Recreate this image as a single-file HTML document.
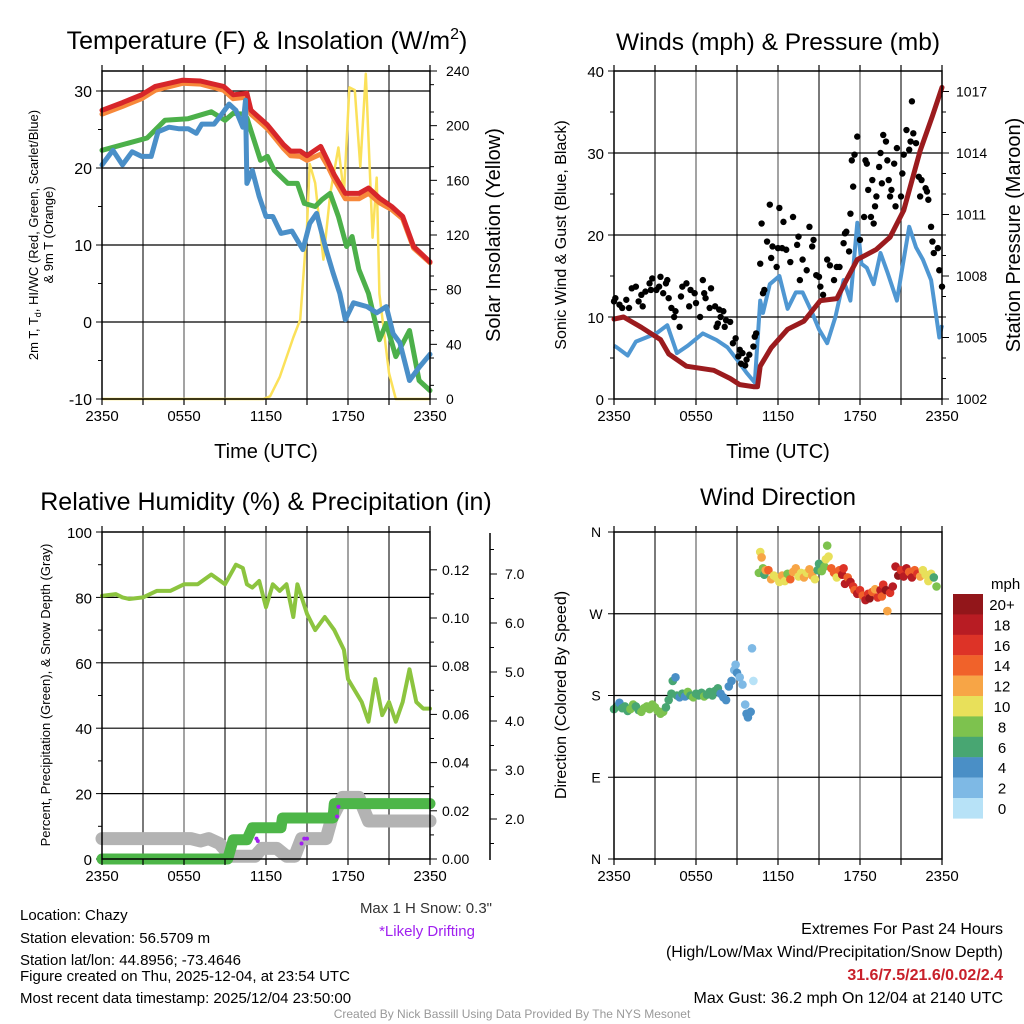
<!DOCTYPE html>
<html><head><meta charset="utf-8"><style>
html,body{margin:0;padding:0;background:#fff;}
svg{display:block;font-family:"Liberation Sans",Arial,sans-serif;}
</style></head><body>
<svg id="root" width="1024" height="1024" viewBox="0 0 1024 1024" xmlns="http://www.w3.org/2000/svg">
<rect width="1024" height="1024" fill="#fff"/>
<g id="static" fill="#000">
<text x="267" y="49" font-size="25" text-anchor="middle">Temperature (F) &amp; Insolation (W/m<tspan font-size="16" dy="-10">2</tspan><tspan dy="10">)</tspan></text>
<text x="778" y="50" font-size="24.5" text-anchor="middle">Winds (mph) &amp; Pressure (mb)</text>
<text x="266" y="510" font-size="25" text-anchor="middle">Relative Humidity (%) &amp; Precipitation (in)</text>
<text x="778" y="505" font-size="24" text-anchor="middle">Wind Direction</text>
<text x="266" y="458" font-size="20" text-anchor="middle">Time (UTC)</text>
<text x="778" y="458" font-size="20" text-anchor="middle">Time (UTC)</text>
<text transform="translate(38,235) rotate(-90)" font-size="13" text-anchor="middle">2m T, T<tspan font-size="9" dy="3">d</tspan><tspan dy="-3">, HI/WC (Red, Green, Scarlet/Blue)</tspan></text>
<text transform="translate(53,235) rotate(-90)" font-size="13" text-anchor="middle">&amp; 9m T (Orange)</text>
<text transform="translate(500,235) rotate(-90)" font-size="20" text-anchor="middle">Solar Insolation (Yellow)</text>
<text transform="translate(566,235) rotate(-90)" font-size="16" text-anchor="middle">Sonic Wind &amp; Gust (Blue, Black)</text>
<text transform="translate(1020,235) rotate(-90)" font-size="20" text-anchor="middle">Station Pressure (Maroon)</text>
<text transform="translate(50,695) rotate(-90)" font-size="13" text-anchor="middle">Percent, Precipitation (Green), &amp; Snow Depth (Gray)</text>
<text transform="translate(566,695) rotate(-90)" font-size="16" text-anchor="middle">Direction (Colored By Speed)</text>
<text x="991" y="589" font-size="15">mph</text>
<text x="492" y="913" font-size="15" fill="#333" text-anchor="end">Max 1 H Snow: 0.3"</text>
<text x="427" y="936" font-size="15" fill="#a020f0" text-anchor="middle">*Likely Drifting</text>
<g font-size="15">
<text x="20" y="920">Location: Chazy</text>
<text x="20" y="943">Station elevation: 56.5709 m</text>
<text x="20" y="965">Station lat/lon: 44.8956; -73.4646</text>
<text x="20" y="981">Figure created on Thu, 2025-12-04, at 23:54 UTC</text>
<text x="20" y="1003">Most recent data timestamp: 2025/12/04 23:50:00</text>
</g>
<g font-size="16" text-anchor="end">
<text x="1003" y="934">Extremes For Past 24 Hours</text>
<text x="1003" y="957">(High/Low/Max Wind/Precipitation/Snow Depth)</text>
<text x="1003" y="980" fill="#c8202a" font-weight="bold">31.6/7.5/21.6/0.02/2.4</text>
<text x="1003" y="1003">Max Gust: 36.2 mph On 12/04 at 2140 UTC</text>
</g>
<text x="512" y="1018" font-size="12" fill="#999" text-anchor="middle">Created By Nick Bassill Using Data Provided By The NYS Mesonet</text>
</g>
<g id="dyn"></g>
</svg>
<script>
// ---------- Temperature panel data ----------
const tHours = [0,1.5,2.9,3.9,5.9,7.2,8.9,9.6,10.6,10.9,12.1,13.3,13.8,14.5,15.0,16.0,16.5,17.0,17.8,18.8,19.5,20.3,21.2,22.0,22.8,24];
const tempRed = [27.5,28.5,29.5,30.6,31.4,31.3,30.6,29.5,29.7,27.5,25.6,23.0,22.2,22.2,21.6,22.8,21.0,19.1,16.7,16.7,17.4,16.1,15.0,13.7,9.8,7.8];
const temp9m = [27.0,28.0,29.0,30.1,31.0,30.9,30.1,29.0,29.2,27.0,25.1,22.5,21.6,21.5,21.0,21.8,20.3,18.5,16.0,16.0,16.7,15.5,14.6,13.4,9.6,7.7];
const gHours = [0,3.3,4.6,6.3,8.0,9.0,9.6,10.3,10.6,11.6,12.1,12.6,13.6,14.3,14.8,15.6,16.1,16.7,17.3,17.9,18.3,18.8,19.5,20.3,20.8,21.5,22.5,23.2,24];
const tempGreen = [22.3,23.9,26.2,26.4,27.3,26.2,27.1,27.0,26.5,21.0,21.5,19.7,18.0,18.0,15.4,15.0,15.9,16.7,13.7,9.8,11.1,6.8,3.7,-2.3,-0.2,-4.5,-1.1,-7.6,-8.9];
const bHours = [0,0.8,1.5,2.2,2.9,3.6,4.1,4.9,5.6,6.3,6.9,7.3,8.2,8.6,9.3,9.8,10.0,10.3,10.5,10.6,11.0,11.5,12.0,12.5,13.1,13.9,14.7,15.2,15.7,16.4,16.9,17.4,17.8,18.4,19.4,20.1,20.8,21.3,21.8,22.5,23.2,24];
const tempBlue = [20.4,22.3,20.4,22.1,21.5,21.5,24.7,25.3,25.1,25.1,24.5,25.7,25.7,26.6,28.3,27.5,26.6,25.3,28.8,18.0,19.7,16.3,13.7,13.7,11.5,11.8,9.4,12.8,14.1,9.4,6.4,3.7,0.3,2.5,2.0,1.2,2.0,-1.5,-2.7,-7.6,-5.9,-4.2];
const sHours = [0,11.8,12.3,13.0,14.0,14.5,15.0,15.2,15.6,16.2,16.7,17.3,17.7,18.1,18.5,18.9,19.3,19.8,20.1,20.3,21.0,21.5,24];
const insolation = [0,0,2,16,45,58,126,172,158,102,150,184,150,228,226,170,238,118,162,77,19,0,0];
const tempTicks = [30,20,10,0,-10];
const insoTicks = [240,200,160,120,80,40,0];
const timeTicks = ["2350","0550","1150","1750","2350"];
// ---------- Wind panel data ----------
const wHours = [0,0.2,1.0,1.6,3.1,3.9,4.6,5.4,6.5,7.5,8.3,9.0,9.7,10.3,10.7,10.9,11.4,12.1,12.7,13.3,13.8,14.5,15.0,15.6,16.2,16.8,17.3,17.8,18.1,18.5,19.0,19.5,20.0,20.7,21.2,21.6,22.1,22.6,23.2,23.8,24];
const windSpeed = [6.5,6.3,5.3,7.0,8.0,9.0,5.6,6.5,8.0,7.2,6.3,4.8,3.2,2.0,12.0,10.5,14.0,15.0,11.0,13.0,13.0,10.5,8.5,6.8,10.0,14.5,12.0,21.5,16.5,16.0,14.0,17.8,15.5,12.0,17.0,21.0,18.5,17.0,14.5,7.5,9.0];
const gustHours = [0.0,0.1,0.4,0.6,0.9,1.1,1.3,1.6,1.8,2.0,2.1,2.3,2.6,2.7,2.8,3.1,3.3,3.4,3.6,3.8,3.9,4.0,4.2,4.4,4.5,4.8,4.9,5.0,5.3,5.5,5.6,5.9,6.0,6.3,6.5,6.6,6.7,7.0,7.1,7.4,7.5,7.6,7.7,7.8,8.0,8.1,8.2,8.5,8.7,8.9,9.1,9.2,9.3,9.4,9.6,9.7,9.9,10.2,10.3,10.4,10.7,10.8,10.9,11.0,11.2,11.4,11.5,11.6,11.9,12.0,12.1,12.3,12.4,12.6,12.9,13.1,13.4,13.5,13.6,13.8,14.1,14.3,14.5,14.6,14.8,15.0,15.1,15.3,15.6,15.8,16.1,16.3,16.5,16.8,16.9,17.0,17.2,17.3,17.4,17.5,17.6,17.8,18.0,18.3,18.4,18.5,18.6,18.8,18.9,19.0,19.1,19.2,19.4,19.5,19.6,19.7,19.9,20.0,20.1,20.2,20.3,20.5,20.6,20.7,21.0,21.1,21.2,21.4,21.6,21.7,21.8,21.9,22.1,22.3,22.4,22.5,22.8,22.9,23.0,23.2,23.3,23.4,23.7,23.8,24.0];
const gustVals = [11.9,12.3,11.5,11.1,12.1,11.1,13.5,13.7,11.9,12.7,11.3,13.1,14.1,13.3,14.7,13.3,13.7,14.9,12.9,14.1,14.5,12.3,11.1,10.0,10.7,8.8,12.5,13.7,14.1,11.3,13.3,12.9,11.7,10.0,14.5,12.9,12.3,11.1,13.5,11.3,8.8,9.2,10.9,10.0,10.7,8.8,9.6,9.4,6.8,7.4,5.2,6.0,4.3,5.6,4.1,4.8,5.4,6.4,7.6,8.0,16.5,21.4,12.9,13.3,19.2,23.7,17.2,18.6,16.1,18.4,23.3,18.4,21.6,18.2,16.7,22.2,18.8,19.8,14.5,17.0,15.7,21.0,18.6,19.4,15.1,14.9,13.7,12.7,17.0,16.3,14.5,16.1,16.1,19.0,20.2,20.4,18.0,22.6,29.1,25.9,29.8,32.0,19.4,22.2,29.1,28.7,25.5,22.2,26.7,21.4,23.5,24.7,28.3,30.0,26.3,32.2,31.4,29.1,26.7,24.7,25.5,28.7,23.5,30.6,24.7,27.5,29.8,32.8,30.4,31.4,36.3,32.4,31.2,27.1,24.7,26.7,25.7,25.3,24.3,21.0,19.2,17.8,18.4,15.7,13.7];
const pHours = [0,0.7,2.0,3.4,4.0,5.3,7.3,8.5,9.2,10.2,10.5,10.7,11.5,12.7,13.9,15.1,16.3,17.0,17.8,19.2,20.2,21.2,22.4,23.3,24];
const pressure = [1005.9,1006.0,1005.5,1004.9,1004.2,1003.6,1003.4,1003.0,1002.7,1002.6,1002.6,1003.6,1004.5,1005.4,1005.8,1006.8,1006.9,1007.8,1008.8,1009.3,1009.9,1011.2,1014.1,1015.8,1017.2];
const windTicks = [40,30,20,10,0];
const presTicks = [1017,1014,1011,1008,1005,1002];
// ---------- RH panel data ----------
const rhHours = [0,1,1.5,2,3,4,5,6,7,8,9,9.8,10.3,10.6,11,11.5,12,12.5,13,13.5,14,14.3,15,15.6,16.3,17,17.7,18,19,19.5,20,20.5,21,21.5,22,22.5,23,23.5,24];
const rhVals = [80.5,81,80,79.5,80,82,82,84,84,87,84,90,89,84,83,85,77,84,82,84,74,84,75,70,74,70,64,55,48,42,55,44,48,42,48,58,48,46,46];
const precipHours = [0,9.2,9.6,10.6,11.0,13.1,13.2,16.9,17.0,24];
const precipVals = [0,0,0.008,0.008,0.013,0.013,0.017,0.017,0.023,0.023];
const snowHours = [0,6.5,7.2,7.8,8.6,9.4,10.4,11.2,11.7,12.8,13.5,14.1,14.6,16.4,16.8,17.6,18.8,19.5,20.0,24];
const snowVals = [1.6,1.6,1.55,1.6,1.5,1.24,1.24,1.24,1.4,1.4,1.24,1.24,1.6,1.6,2.0,2.44,2.44,1.96,1.96,1.96];
const driftHours = [11.3,11.4,14.6,14.8,15.0,17.2,17.3];
const driftVals = [1.6,1.55,1.5,1.6,1.6,2.05,2.25];
const rhTicks = [100,80,60,40,20,0];
const precipTicks = ["0.00","0.02","0.04","0.06","0.08","0.10","0.12"];
const snowTicks = ["2.0","3.0","4.0","5.0","6.0","7.0"];
// ---------- Wind direction data ----------
const dHours = [0.0,0.2,0.4,0.6,0.8,1.0,1.2,1.4,1.6,1.8,2.0,2.2,2.4,2.6,2.8,3.0,3.2,3.4,3.6,3.8,4.0,4.2,4.3,4.5,4.6,4.8,5.0,5.2,5.4,5.6,5.8,6.0,6.2,6.4,6.6,6.8,7.0,7.2,7.4,7.6,7.8,8.0,8.2,8.4,8.6,8.8,8.9,9.0,9.2,9.4,9.6,9.7,9.8,10.0,10.1,10.2,
10.6,10.7,10.8,10.9,11.0,11.1,11.3,11.5,11.7,11.9,12.1,12.3,12.5,12.7,12.9,13.1,13.3,13.5,13.7,13.9,14.1,14.3,14.5,14.7,14.9,15.0,15.2,15.4,15.5,15.6,15.7,15.9,16.1,16.3,16.5,16.7,16.8,16.9,17.1,17.3,17.5,17.6,17.8,18.0,18.2,18.4,18.6,18.7,18.9,19.1,19.3,19.5,19.6,19.7,19.9,20.0,20.2,20.4,20.6,20.8,21.0,21.2,21.4,21.6,21.8,22.0,22.2,22.4,22.6,22.8,23.0,23.2,23.4,23.6];
const dirVals = [165,168,172,166,168,163,165,170,168,164,162,166,168,165,170,167,163,160,162,167,175,182,196,200,180,178,182,179,184,180,178,182,180,183,179,181,184,180,185,188,182,178,175,190,196,208,214,205,200,192,170,160,156,162,232,196,
315,338,332,320,313,318,318,308,312,310,305,312,306,314,308,316,320,311,315,310,315,319,312,308,318,325,317,322,330,345,333,320,315,310,318,313,320,303,310,305,300,296,292,296,290,285,292,287,294,297,288,296,289,302,296,273,293,300,322,312,318,311,320,316,310,318,314,311,318,313,306,314,310,300];
const dirSpeeds = [6.5,7,5,6.5,7,6.5,8,8.5,6.5,7,8.5,9,8.5,9,8.5,8,8.5,9,8.5,6.5,7,6.5,6.5,5,6.5,4.5,6.5,5,8.5,6.5,9,6.5,7,6.5,8.5,6.5,7,6.5,6.5,6.5,5,4.5,4.5,4.5,4.5,3.5,3,4.5,3,3.5,3,4.5,4.5,4.5,3,1.5,
9,10.5,12.5,8,6.5,13,14,12.5,10.5,11,10.5,12.5,11,8,14.5,12.5,12.5,10.5,11,12.5,10.5,12.5,12.5,10,7,6.5,8,9,10.5,8.5,10.5,14.5,14,10,15,19,17,19,15,19,17,14,19,17,14,19,17,20.5,15,12.5,17,19,14,17,20.5,13,16,19,19,20.5,17,19,19,14,19,14,16,12.5,11,10,10.5,10.5,7,8];
const dirTicks = ["N","W","S","E","N"];
const cbLabels = ["20+","18","16","14","12","10","8","6","4","2","0"];
const cbColors = ["#92161a","#b81c23","#dd3327","#f0622a","#f7a546","#e8e05a","#7dc24e","#48a672","#4a8fc6","#7eb9e5","#b7e2f7"];

const NS = "http://www.w3.org/2000/svg";
const dyn = document.getElementById('dyn');
function mk(tag, attrs, parent) {
  const e = document.createElementNS(NS, tag);
  for (const k in attrs) e.setAttribute(k, attrs[k]);
  (parent || dyn).appendChild(e);
  return e;
}
function txt(x, y, s, size, anchor, parent) {
  const t = mk('text', {x: x, y: y, 'font-size': size, 'text-anchor': anchor}, parent);
  t.textContent = s;
  return t;
}
const L = {x0:102, x1:430}, R = {x0:614, x1:942};
const hx = (p) => (h) => p.x0 + h * (p.x1 - p.x0) / 24;
const xL = hx(L), xR = hx(R);
const yTemp = (v) => 399 - (v + 10) * 7.7;
const yIns = (v) => 399 - v * 328 / 240;
const yWind = (v) => 399 - v * 8.2;
const yPres = (v) => 399 - (v - 1002) * 20.5;
const yRH = (v) => 859 - v * 3.27;
const yPre = (v) => 859 - v * 2410;
const ySnow = (v) => 917 - v * 49;
const yDir = (v) => 859 - v * 0.9083;

function path(xs, ys, fx, fy) {
  return xs.map((h, i) => (i ? 'L' : 'M') + fx(h).toFixed(1) + ' ' + fy(ys[i]).toFixed(1)).join(' ');
}
function grid(p, fx, yTop, yBot, hLines, parent) {
  for (let h = 3; h < 24; h += 3) mk('line', {x1: fx(h), x2: fx(h), y1: yTop, y2: yBot, stroke: h % 6 === 0 ? '#666' : '#222', 'stroke-width': 1.2}, parent);
  hLines.forEach(y => mk('line', {x1: p.x0, x2: p.x1, y1: y, y2: y, stroke: '#000', 'stroke-width': 1.2}, parent));
}
function frame(p, yTop, yBot, parent) {
  mk('rect', {x: p.x0, y: yTop, width: p.x1 - p.x0, height: yBot - yTop, fill: 'none', stroke: '#000', 'stroke-width': 1.5}, parent);
  for (let h = 0; h <= 24; h += 3) {
    const x = p.x0 + h * (p.x1 - p.x0) / 24;
    mk('line', {x1: x, x2: x, y1: yBot, y2: yBot + 6, stroke: '#000', 'stroke-width': 1.2}, parent);
    mk('line', {x1: x, x2: x, y1: yTop, y2: yTop - 6, stroke: '#000', 'stroke-width': 1.2}, parent);
  }
  timeTicks.forEach((s, i) => {
    const t = txt(p.x0 + i * 6 * (p.x1 - p.x0) / 24, yBot + 22, s, 15, 'middle', parent);
    
    
  });
}

// ===== Temperature panel =====
const gT = mk('g', {});


grid(L, xL, 71, 399, [yTemp(30), yTemp(20), yTemp(10), yTemp(0)], gT);
tempTicks.forEach(v => {
  mk('line', {x1: L.x0 - 6, x2: L.x0, y1: yTemp(v), y2: yTemp(v), stroke: '#000'}, gT);
  const t = txt(L.x0 - 10, yTemp(v) + 6, String(v), 16, 'end', gT);
  
  
});
[25,15,5,-5].forEach(v => mk('line', {x1: L.x0 - 4, x2: L.x0, y1: yTemp(v), y2: yTemp(v), stroke: '#000'}, gT));
insoTicks.forEach(v => {
  mk('line', {x1: L.x1, x2: L.x1 + 7, y1: yIns(v), y2: yIns(v), stroke: '#000'}, gT);
  const t = txt(L.x1 + 16, yIns(v) + 5, String(v), 14, 'start', gT);
  
  
});
for (let v = 10; v < 240; v += 20) mk('line', {x1: L.x1, x2: L.x1 + 4, y1: yIns(v), y2: yIns(v), stroke: '#000'}, gT);
const lnIns = mk('path', {d: path(sHours, insolation, xL, yIns), fill: 'none', stroke: '#fbe15a', 'stroke-width': 2.5, 'stroke-linejoin': 'round'}, gT);


const ln9m = mk('path', {d: path(tHours, temp9m, xL, yTemp), fill: 'none', stroke: '#f7883a', 'stroke-width': 5, 'stroke-linejoin': 'round', 'stroke-linecap': 'round'}, gT);


const lnRed = mk('path', {d: path(tHours, tempRed, xL, yTemp), fill: 'none', stroke: '#d7262a', 'stroke-width': 5, 'stroke-linejoin': 'round', 'stroke-linecap': 'round'}, gT);


const lnG = mk('path', {d: path(gHours, tempGreen, xL, yTemp), fill: 'none', stroke: '#4cb04a', 'stroke-width': 5, 'stroke-linejoin': 'round', 'stroke-linecap': 'round'}, gT);


const lnB = mk('path', {d: path(bHours, tempBlue, xL, yTemp), fill: 'none', stroke: '#4a8fc8', 'stroke-width': 5, 'stroke-linejoin': 'round', 'stroke-linecap': 'round'}, gT);


frame(L, 71, 399, gT);

// ===== Wind panel =====
const gW = mk('g', {});


grid(R, xR, 71, 399, [yWind(30), yWind(20), yWind(10)], gW);
windTicks.forEach(v => {
  mk('line', {x1: R.x0 - 6, x2: R.x0, y1: yWind(v), y2: yWind(v), stroke: '#000'}, gW);
  const t = txt(R.x0 - 10, yWind(v) + 6, String(v), 15, 'end', gW);
  
  
});
[35,25,15,5].forEach(v => mk('line', {x1: R.x0 - 4, x2: R.x0, y1: yWind(v), y2: yWind(v), stroke: '#000'}, gW));
presTicks.forEach(v => {
  mk('line', {x1: R.x1, x2: R.x1 + 7, y1: yPres(v), y2: yPres(v), stroke: '#000'}, gW);
  const t = txt(R.x1 + 14, yPres(v) + 5, String(v), 14, 'start', gW);
  
  
});
for (let v = 1003; v < 1018; v++) if ((v - 1002) % 3) mk('line', {x1: R.x1, x2: R.x1 + 4, y1: yPres(v), y2: yPres(v), stroke: '#000'}, gW);
const lnW = mk('path', {d: path(wHours, windSpeed, xR, yWind), fill: 'none', stroke: '#4f97d2', 'stroke-width': 4, 'stroke-linejoin': 'round'}, gW);


gustHours.forEach((h, i) => {
  const c = mk('circle', {cx: xR(h), cy: yWind(gustVals[i]), r: 3.2, fill: '#000'}, gW);
  
  
});
const lnP = mk('path', {d: path(pHours, pressure, xR, yPres), fill: 'none', stroke: '#9b1b1e', 'stroke-width': 5, 'stroke-linejoin': 'round', 'stroke-linecap': 'round'}, gW);


frame(R, 71, 399, gW);

// ===== RH panel =====
const gH = mk('g', {});


grid(L, xL, 532, 859, [yRH(80), yRH(60), yRH(40), yRH(20)], gH);
rhTicks.forEach(v => {
  mk('line', {x1: L.x0 - 6, x2: L.x0, y1: yRH(v), y2: yRH(v), stroke: '#000'}, gH);
  const t = txt(L.x0 - 10, yRH(v) + 6, String(v), 15, 'end', gH);
  
  
});
[90,70,50,30,10].forEach(v => mk('line', {x1: L.x0 - 4, x2: L.x0, y1: yRH(v), y2: yRH(v), stroke: '#000'}, gH));
precipTicks.forEach(s => {
  const v = parseFloat(s);
  mk('line', {x1: L.x1, x2: L.x1 + 7, y1: yPre(v), y2: yPre(v), stroke: '#000'}, gH);
  const t = txt(L.x1 + 12, yPre(v) + 5, s, 14, 'start', gH);
  
  
});
for (let v = 0.01; v < 0.13; v += 0.02) mk('line', {x1: L.x1, x2: L.x1 + 4, y1: yPre(v), y2: yPre(v), stroke: '#000'}, gH);
mk('line', {x1: 490, x2: 490, y1: 533, y2: 860, stroke: '#000', 'stroke-width': 1.5}, gH);
snowTicks.forEach(s => {
  const v = parseFloat(s);
  mk('line', {x1: 490, x2: 497, y1: ySnow(v), y2: ySnow(v), stroke: '#000'}, gH);
  const t = txt(505, ySnow(v) + 5, s, 14, 'start', gH);
  
  
});
for (let v = 1.5; v < 7.6; v += 0.5) if (v % 1) mk('line', {x1: 490, x2: 494, y1: ySnow(v), y2: ySnow(v), stroke: '#000'}, gH);
const lnS = mk('path', {d: path(snowHours, snowVals, xL, ySnow), fill: 'none', stroke: '#b3b3b3', 'stroke-width': 13, 'stroke-linejoin': 'round', 'stroke-linecap': 'round'}, gH);


const lnPr = mk('path', {d: path(precipHours, precipVals, xL, yPre), fill: 'none', stroke: '#4db648', 'stroke-width': 11, 'stroke-linejoin': 'round', 'stroke-linecap': 'round'}, gH);


driftHours.forEach((h, i) => {
  const c = mk('circle', {cx: xL(h), cy: ySnow(driftVals[i]), r: 2, fill: '#a020f0'}, gH);
  
  
});
const lnRH = mk('path', {d: path(rhHours, rhVals, xL, yRH), fill: 'none', stroke: '#8cc43f', 'stroke-width': 4, 'stroke-linejoin': 'round', 'stroke-linecap': 'round'}, gH);


frame(L, 532, 859, gH);

// ===== Wind direction panel =====
const gD = mk('g', {});


grid(R, xR, 532, 859, [yDir(270), yDir(180), yDir(90)], gD);
dirTicks.forEach((s, i) => {
  const v = 360 - i * 90;
  mk('line', {x1: R.x0 - 6, x2: R.x0, y1: yDir(v), y2: yDir(v), stroke: '#000'}, gD);
  const t = txt(R.x0 - 18, yDir(v) + 5, s, 14, 'middle', gD);
  
  
});
function spdColor(s) { const k = Math.min(10, Math.floor(s / 2)); return cbColors[10 - k]; }
dHours.forEach((h, i) => {
  const c = mk('circle', {cx: xR(h), cy: yDir(dirVals[i]), r: 4.3, fill: spdColor(dirSpeeds[i])}, gD);
  
  
});
frame(R, 532, 859, gD);
cbLabels.forEach((s, i) => {
  const r = mk('rect', {x: 953, y: 594 + i * 20.4, width: 30, height: 20.6, fill: cbColors[i]}, gD);
  
  
  const t = txt(1002, 594 + i * 20.4 + 16, s, 15, 'middle', gD);
  
  
});
</script>
</body></html>
